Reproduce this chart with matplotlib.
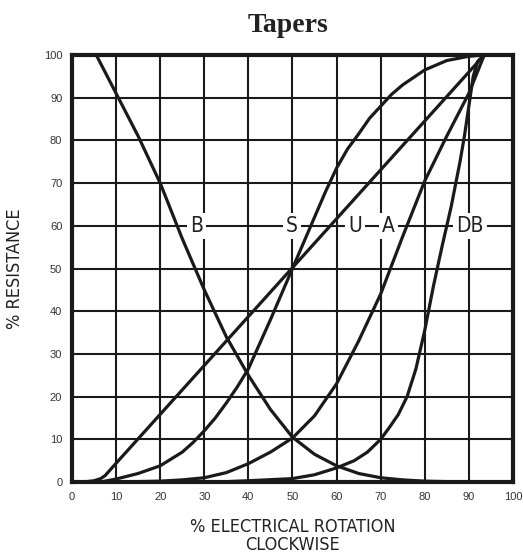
import numpy as np
import matplotlib
matplotlib.use('Agg')
import matplotlib.pyplot as plt

# taper curves: % rotation vs % resistance
b_x = [0, 5.5, 7.5, 10, 15, 20, 25, 30, 35, 40, 45, 50, 55, 60, 65, 70, 75, 80, 85, 93.5]
b_y = [100, 100, 96, 91, 81, 70, 57, 45, 34, 25, 17, 10.5, 6.5, 3.8, 2, 1, 0.5, 0.2, 0.1, 0]

s_x = [6.5, 10, 15, 20, 25, 27.5, 30, 32.5, 35, 37.5, 40, 45, 50, 55, 57.5, 60, 62.5,
       65, 67.5, 70, 72.5, 75, 80, 85, 90, 93.5]
s_y = [0, 0.7, 2, 3.8, 7, 9.3, 12, 15, 18.5, 22.3, 26.5, 38, 50, 62, 68, 73.5, 78,
       81.5, 85.2, 88, 90.8, 93, 96.5, 98.7, 99.7, 100]

u_x = [2.5, 5, 6.5, 7.5, 10, 93.5]
u_y = [0, 0.3, 0.8, 1.5, 4.4, 100]

a_x = [7, 15, 20, 25, 30, 35, 40, 45, 50, 55, 60, 65, 70, 75, 80, 85, 90, 93.5]
a_y = [0, 0.1, 0.2, 0.5, 1, 2.2, 4.3, 7, 10.3, 15.5, 23, 33, 44, 57.5, 70.5, 81, 91, 100]

db_x = [33, 40, 50, 55, 60, 64, 67, 70, 72, 74, 76, 78, 80, 82, 84, 86, 88, 89, 90, 91, 92, 93.5]
db_y = [0, 0.3, 0.8, 1.7, 3.3, 5, 7, 10, 12.8, 15.8, 20, 26.5, 35.5, 46, 55.5, 64.5, 75, 81, 88, 95, 98.5, 100]

labels = ['B', 'S', 'U', 'A', 'DB']
label_x = [28.3, 49.9, 64.2, 71.7, 90.2]
label_y = 60

ticks = list(range(0, 101, 10))

fig = plt.figure(figsize=(5.23, 5.55), dpi=100)
ax = fig.add_axes([0.1377, 0.1315, 0.843, 0.7694])

ax.set_xlim(0, 100)
ax.set_ylim(0, 100)
ax.set_xticks(ticks)
ax.set_yticks(ticks)
ax.grid(True, color='#1a1a1a', linewidth=1.5, zorder=1)
ax.set_axisbelow(True)
ax.tick_params(length=0, labelsize=8, labelcolor='#333333', pad=7)
for lab in ax.get_xticklabels() + ax.get_yticklabels():
  lab.set_family('Liberation Sans')
for sp in ax.spines.values():
  sp.set_linewidth(3)
  sp.set_color('#1a1a1a')

for xs, ys in [(b_x, b_y), (s_x, s_y), (u_x, u_y), (a_x, a_y), (db_x, db_y)]:
  ax.plot(xs, ys, color='#1a1a1a', linewidth=2.3, solid_capstyle='butt',
          solid_joinstyle='round', zorder=3, clip_on=False)

for name, lx in zip(labels, label_x):
  ax.text(lx, label_y, name, ha='center', va='center', fontsize=15, family='DejaVu Sans',
          fontstretch='condensed', color='#222222', zorder=2,
          bbox=dict(boxstyle='square,pad=0.15', fc='white', ec='none'))

ax.set_xlabel('% ELECTRICAL ROTATION\nCLOCKWISE', fontsize=13, family='DejaVu Sans',
              fontstretch='condensed', color='#222222', labelpad=12, linespacing=0.95)
ax.set_ylabel('% RESISTANCE', fontsize=13, family='DejaVu Sans', fontstretch='condensed',
              color='#222222', labelpad=14)

fig.text(0.551, 1 - 25 / 555, 'Tapers', ha='center', va='center', fontsize=20,
         fontweight='bold', family='Liberation Serif', color='#222222')

fig.savefig('out.png', dpi=100)
